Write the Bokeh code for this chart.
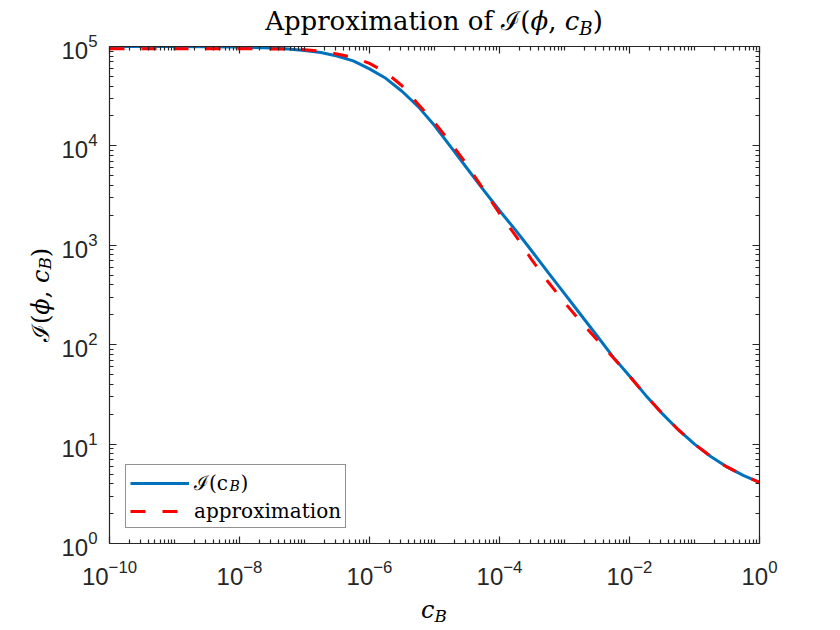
from bokeh.plotting import figure
from bokeh.models import (LogAxis, FixedTicker, CustomJSTickFormatter, Label,
                          Legend, LegendItem, Range1d, Div)
from bokeh.layouts import column, row
from bokeh.embed import file_html
from bokeh.resources import INLINE

# ---- data ----
cb_exact = [1e-10, 1e-9, 1e-8, 3.16e-8, 5.62e-8, 1e-7, 1.78e-7, 3.16e-7, 5.62e-7,
            1e-6, 1.78e-6, 3.16e-6, 5.62e-6, 1e-5, 1.78e-5, 3.16e-5, 5.62e-5,
            1e-4, 1.78e-4, 3.16e-4, 5.62e-4, 1e-3, 1.78e-3, 3.16e-3, 5.62e-3,
            1e-2, 1.78e-2, 3.16e-2, 5.62e-2, 0.1, 0.178, 0.316, 0.562, 1.0]
i_exact = [1e5, 1e5, 98855, 96605, 94406, 91201, 87096, 80353, 71614,
           59566, 47863, 35481, 24831, 16032, 9772, 5957, 3631,
           2239, 1413, 871, 531, 327, 200, 123, 75.0,
           48.4, 30.9, 20.4, 13.96, 10.0, 7.50, 5.89, 4.84, 4.11]

cb_approx = [1e-10, 1e-8, 5.62e-8, 1e-7, 1.78e-7, 3.16e-7, 5.62e-7,
             1e-6, 1.78e-6, 3.16e-6, 5.62e-6, 1e-5, 1.78e-5, 3.16e-5, 5.62e-5,
             1e-4, 1.78e-4, 3.16e-4, 5.62e-4, 1e-3, 1.78e-3, 3.16e-3, 5.62e-3,
             1e-2, 1.78e-2, 3.16e-2, 5.62e-2, 0.1, 0.178, 0.316, 0.562, 1.0]
i_approx = [9.48e4, 9.48e4, 94406, 92897, 89536, 84140, 77625,
            67608, 54954, 40272, 26303, 17179, 10715, 6457, 3673,
            2089, 1245, 708, 427, 266, 170, 112, 74.1,
            48.4, 30.9, 20.4, 13.96, 10.0, 7.50, 5.89, 4.84, 4.11]

x_major = [1e-10, 1e-8, 1e-6, 1e-4, 1e-2, 1e0]
y_major = [1e0, 1e1, 1e2, 1e3, 1e4, 1e5]

x_minor = [m * 10.0 ** k for k in range(-10, 0) for m in range(1, 10)
           if not (m == 1 and k % 2 == 0)]
y_minor = [m * 10.0 ** k for k in range(0, 5) for m in range(2, 10)]

title_html = "Approximation of ℐ(<i>ϕ</i>, <i>c<sub>B</sub></i>)"
xlabel_html = "<i>c<sub>B</sub></i>"
ylabel_html = "ℐ(<i>ϕ</i>, <i>c<sub>B</sub></i>)"
legend_labels = ["ℐ(c", "approximation"]

AX = "#262626"
BLUE = "#0072BD"
RED = "#FF0000"
SERIF = "DejaVu Serif"
SUB = "<style>sub{font-size:70%;vertical-align:-0.25em;line-height:0}</style>"

p = figure(x_axis_type="log", y_axis_type="log", title=None,
           x_range=Range1d(1e-10, 1.0), y_range=Range1d(1.0, 1e5),
           frame_width=650, frame_height=497,
           min_border_left=55, min_border_right=69,
           min_border_top=16, min_border_bottom=52,
           output_backend="svg", toolbar_location=None)
p.outline_line_color = None
p.xgrid.grid_line_color = None
p.ygrid.grid_line_color = None
p.background_fill_color = None
p.border_fill_color = None


def style_axis(ax, ticks, minor, labels=True):
    ax.ticker = FixedTicker(ticks=ticks, minor_ticks=minor)
    ax.axis_line_color = AX
    ax.axis_line_width = 1.2
    ax.major_tick_line_color = AX
    ax.minor_tick_line_color = AX
    ax.major_tick_line_width = 1.2
    ax.minor_tick_line_width = 1.2
    ax.major_tick_in = 7
    ax.major_tick_out = 0
    ax.minor_tick_in = 4
    ax.minor_tick_out = 0
    ax.major_label_text_font = "Liberation Sans"
    ax.major_label_text_font_size = "24px"
    ax.major_label_text_color = AX
    if not labels:
        ax.formatter = CustomJSTickFormatter(code="return ''")
        ax.major_label_text_font_size = "0px"
        ax.major_label_standoff = 0


style_axis(p.xaxis[0], x_major, x_minor)
style_axis(p.yaxis[0], y_major, y_minor)
p.xaxis[0].major_label_standoff = 16
p.yaxis[0].major_label_standoff = 12

top = LogAxis()
style_axis(top, x_major, x_minor, labels=False)
p.add_layout(top, "above")
right = LogAxis()
style_axis(right, y_major, y_minor, labels=False)
p.add_layout(right, "right")

r_exact = p.line(cb_exact, i_exact, line_color=BLUE, line_width=3,
                 line_join="round")
r_approx = p.line(cb_approx, i_approx, line_color=RED, line_width=3,
                  line_dash="15 17", line_cap="butt")

legend = Legend(items=[LegendItem(label=legend_labels[0], renderers=[r_exact]),
                       LegendItem(label=legend_labels[1], renderers=[r_approx])],
                location=(16, 15), margin=0, padding=4, spacing=3,
                label_standoff=5, glyph_width=59, glyph_height=24,
                label_height=24, border_line_color=AX, border_line_width=1.2,
                label_text_font=SERIF, label_text_font_size="20px",
                label_text_color="black", background_fill_alpha=0.0,
                level="annotation")
p.add_layout(legend)

# subscript and closing bracket of the first legend label
p.add_layout(Label(x=120, y=58, x_units="screen", y_units="screen", text="B",
                   text_font=SERIF, text_font_size="14px",
                   text_font_style="italic", text_baseline="middle",
                   text_color="black", level="overlay"))
p.add_layout(Label(x=131, y=61, x_units="screen", y_units="screen", text=")",
                   text_font=SERIF, text_font_size="20px",
                   text_baseline="middle", text_color="black", level="overlay"))

title_div = Div(text=SUB + (
    "<div style='width:828px;box-sizing:border-box;padding-left:40px;"
    "padding-top:4px;text-align:center;line-height:35px;white-space:nowrap;"
    f"font-family:\"{SERIF}\";font-size:26px;color:black'>" + title_html + "</div>"),
    width=828, height=30, margin=0)

ylabel_div = Div(text=SUB + (
    "<div style='margin-left:21px;width:40px;height:529px;writing-mode:vertical-rl;"
    "transform:rotate(180deg);text-align:center;line-height:40px;white-space:nowrap;"
    f"font-family:\"{SERIF}\";font-size:24px;color:black'>" + ylabel_html + "</div>"),
    width=54, height=565, margin=0)

xlabel_div = Div(text=SUB + (
    "<div style='width:828px;box-sizing:border-box;padding-left:40px;"
    "text-align:center;line-height:30px;white-space:nowrap;"
    f"font-family:\"{SERIF}\";font-size:24px;color:black'>" + xlabel_html + "</div>"),
    width=828, height=30, margin=0)

layout = column(title_div, row(ylabel_div, p, spacing=0), xlabel_div, spacing=0)

open("out.html", "w").write(file_html(layout, INLINE))
